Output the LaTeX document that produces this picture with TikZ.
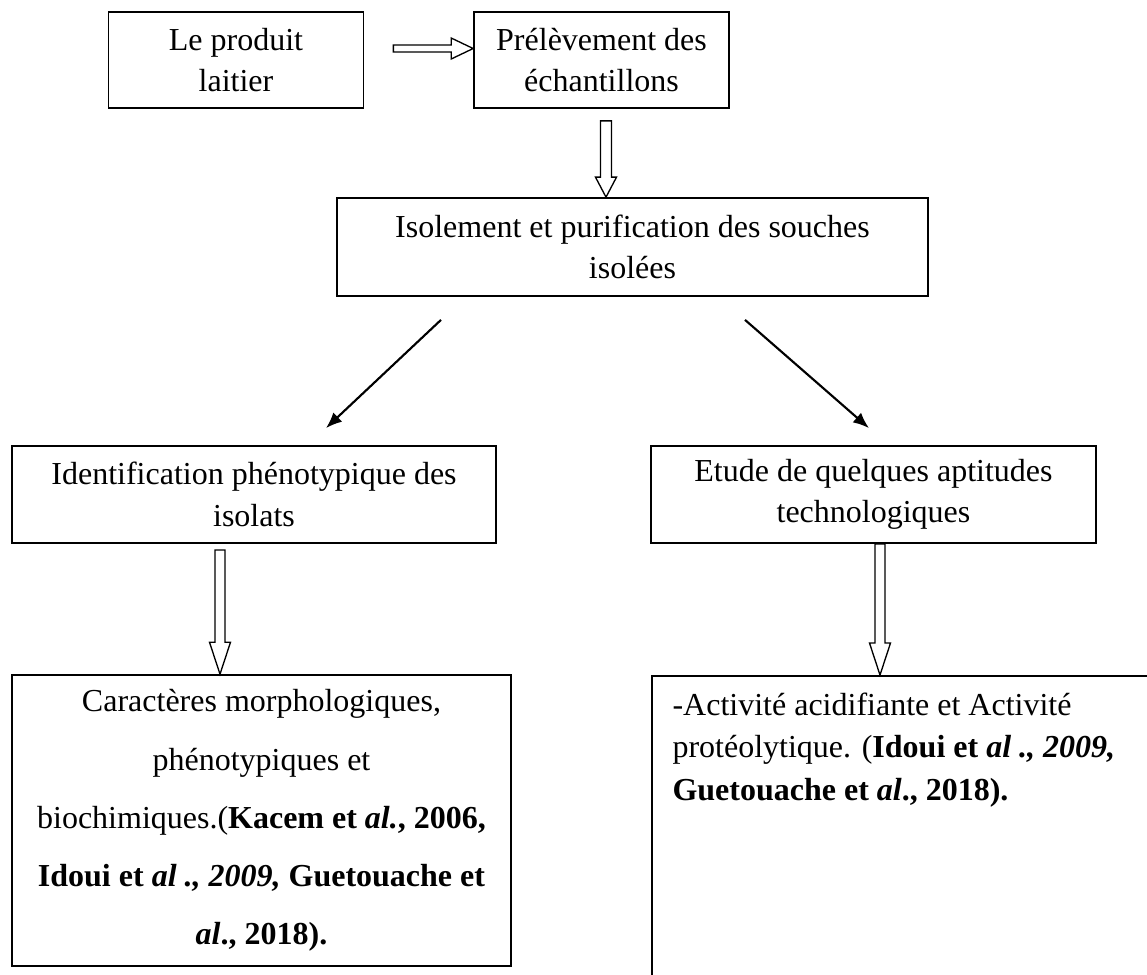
\documentclass[tikz,border=0pt]{standalone}
\usepackage{fontspec}
\setmainfont{Liberation Serif}
\usetikzlibrary{calc,arrows.meta}
\tikzset{
  box/.style={draw,line width=0.65pt,align=center,inner sep=0pt,font=\fontsize{12}{15.5}\selectfont},
  flow/.style={line width=0.8pt,-{Latex[length=6pt,width=4.8pt]}},
  blockline/.style={line width=0.5pt}
}
% hollow block arrow: from, to, shaft half width, head half width, head length
\newcommand{\blockarrow}[5]{%
  \coordinate (hb) at ($(#2)!#5!(#1)$);
  \draw[blockline] ($(#1)!#3!90:(#2)$) -- ($(hb)!#3!90:(#2)$) -- ($(hb)!#4!90:(#2)$) -- (#2)
    -- ($(hb)!#4!-90:(#2)$) -- ($(hb)!#3!-90:(#2)$) -- ($(#1)!#3!-90:(#2)$) -- cycle;}
\begin{document}
\begin{tikzpicture}[x=0.375pt,y=-0.375pt]
\useasboundingbox (0,0) rectangle (1147,974);
\clip (0,0) rectangle (1147,974);
\node[box,minimum width=95.6pt,minimum height=36pt](b1) at (236,60) {Le produit\\laitier};
\node[box,minimum width=95.6pt,minimum height=36pt](b2) at (601.5,60) {Prélèvement des\\échantillons};
\node[box,minimum width=221.6pt,minimum height=36.75pt](b3) at (632.5,247) {Isolement et purification des souches\\isolées};
\node[box,minimum width=181.5pt,minimum height=36.4pt](b4) at (254,494.5) {Identification phénotypique des\\isolats};
\node[box,minimum width=166.9pt,minimum height=36.4pt](b5) at (873.5,494.5) {Etude de quelques aptitudes\\technologiques};
\node[box,minimum width=187.1pt,minimum height=109.1pt,font=\fontsize{12}{21.8}\selectfont](b6) at (261.5,820.5)
  {Caractères morphologiques,\\phénotypiques et\\biochimiques.(\textbf{Kacem et \textit{al.}, 2006,}\\
   \textbf{Idoui et \textit{al ., 2009,} Guetouache et}\\\textbf{\textit{al}., 2018).}};
\node[box,anchor=north west,minimum width=225pt,minimum height=150pt](b7) at (651,675) {};
\node[align=left,anchor=north west,inner sep=0pt,font=\fontsize{12}{16}\selectfont](t7) at (672,692)
  {-Activité acidifiante et Activité\\protéolytique. (\textbf{Idoui et \textit{al ., 2009,}}\\
   \textbf{Guetouache et \textit{al}., 2018).}};
\coordinate (h1) at ($(b1.east)+(29,-11.5)$);
\coordinate (h1e) at (b2.west |- h1);
\coordinate (v1) at ($(b2.south)+(4.5,12)$);
\coordinate (v1e) at (v1 |- b3.north);
\coordinate (v2) at ($(b4.south)+(-34,6)$);
\coordinate (v2e) at (v2 |- b6.north);
\coordinate (v3) at ($(b5.south)+(6.5,0)$);
\coordinate (v3e) at (v3 |- b7.north);
\blockarrow{h1}{h1e}{1.3pt}{3.94pt}{8.25pt}
\blockarrow{v1}{v1e}{2.06pt}{3.94pt}{7.5pt}
\blockarrow{v2}{v2e}{1.875pt}{3.94pt}{12pt}
\blockarrow{v3}{v3e}{1.875pt}{3.94pt}{12pt}
\draw[flow] ($(b3.south)+(-191.5,23)$) -- ($(b4.north)+(72,-17)$);
\draw[flow] ($(b3.south)+(112.5,23)$) -- ($(b5.north)+(-4.5,-17)$);
\end{tikzpicture}
\end{document}
